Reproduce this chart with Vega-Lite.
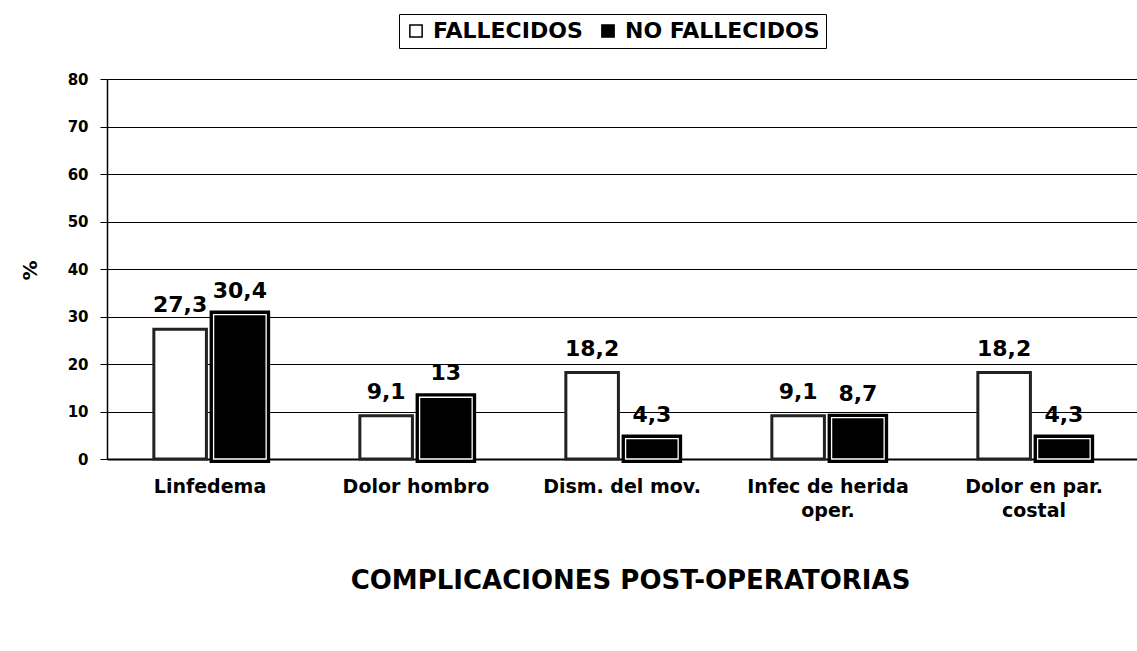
{
  "$schema": "https://vega.github.io/schema/vega-lite/v6.json",
  "width": 1030,
  "height": 380,
  "autosize": "none",
  "padding": {"left": 107, "top": 79, "right": 0, "bottom": 192},
  "background": "white",
  "config": {
    "view": {"stroke": null},
    "font": "DejaVu Sans",
    "axis": {"labelColor": "black", "titleColor": "black", "domainColor": "black", "tickColor": "black", "gridColor": "black", "gridOpacity": 1, "gridWidth": 1}
  },
  "data": {
    "values": [
      {"c": "Linfedema", "s": "FALLECIDOS", "v": 27.3, "t": "27,3"},
      {"c": "Linfedema", "s": "NO FALLECIDOS", "v": 30.4, "t": "30,4"},
      {"c": "Dolor  hombro", "s": "FALLECIDOS", "v": 9.1, "t": "9,1"},
      {"c": "Dolor  hombro", "s": "NO FALLECIDOS", "v": 13, "t": "13"},
      {"c": "Dism. del mov.", "s": "FALLECIDOS", "v": 18.2, "t": "18,2"},
      {"c": "Dism. del mov.", "s": "NO FALLECIDOS", "v": 4.3, "t": "4,3"},
      {"c": "Infec de herida oper.", "s": "FALLECIDOS", "v": 9.1, "t": "9,1"},
      {"c": "Infec de herida oper.", "s": "NO FALLECIDOS", "v": 8.7, "t": "8,7"},
      {"c": "Dolor en par. costal", "s": "FALLECIDOS", "v": 18.2, "t": "18,2"},
      {"c": "Dolor en par. costal", "s": "NO FALLECIDOS", "v": 4.3, "t": "4,3"}
    ]
  },
  "encoding": {
    "x": {
      "field": "c", "type": "nominal", "sort": null,
      "scale": {"paddingInner": 0.42, "paddingOuter": 0.21},
      "axis": {
        "title": "COMPLICACIONES POST-OPERATORIAS",
        "titleFont": "DejaVu Sans", "titleFontSize": 26, "titleFontWeight": "bold",
        "titleX": 523, "titleY": 121, "titleBaseline": "middle", "titleAnchor": null, "titleAlign": "center",
        "labelAngle": 0, "labelFont": "DejaVu Sans", "labelFontSize": 19, "labelFontWeight": "bold",
        "labelBaseline": "top", "labelPadding": 18, "labelLineHeight": 24, "labelLimit": 260,
        "labelExpr": "datum.label == 'Infec de herida oper.' ? ['Infec de herida', 'oper.'] : datum.label == 'Dolor en par. costal' ? ['Dolor en par.', 'costal'] : datum.label",
        "ticks": false, "domainWidth": 2, "grid": false
      }
    },
    "xOffset": {
      "field": "s", "type": "nominal",
      "scale": {"domain": ["FALLECIDOS", "NO FALLECIDOS"], "paddingInner": 0.12, "paddingOuter": 0.06}
    },
    "y": {
      "field": "v", "type": "quantitative",
      "scale": {"domain": [0, 80], "nice": false},
      "axis": {
        "title": "%", "titleFont": "DejaVu Sans", "titleFontSize": 20, "titleFontWeight": "bold",
        "titleAngle": -90, "titleX": -77, "titleY": 191, "titleAlign": "center", "titleBaseline": "middle",
        "values": [0, 10, 20, 30, 40, 50, 60, 70, 80],
        "labelFont": "DejaVu Sans", "labelFontSize": 15, "labelFontWeight": "bold",
        "labelPadding": 12, "tickSize": 7, "grid": true, "domainWidth": 1.5
      }
    }
  },
  "layer": [
    {
      "transform": [{"filter": "datum.s == 'FALLECIDOS'"}],
      "mark": {"type": "bar", "stroke": "#222", "strokeWidth": 3},
      "encoding": {
        "fill": {
          "field": "s", "type": "nominal",
          "scale": {"domain": ["FALLECIDOS", "NO FALLECIDOS"], "range": ["white", "black"]},
          "legend": {
            "title": null, "orient": "none", "legendX": 292, "legendY": -65, "direction": "horizontal",
            "strokeColor": "black", "padding": 6, "fillColor": "white",
            "labelFont": "DejaVu Sans", "labelFontSize": 22, "labelFontWeight": "bold", "labelColor": "black",
            "labelLimit": 400, "labelOffset": 6, "columnPadding": 14,
            "symbolType": "square", "symbolSize": 150, "symbolStrokeColor": "black", "symbolStrokeWidth": 1.5
          }
        }
      }
    },
    {
      "transform": [{"filter": "datum.s == 'NO FALLECIDOS'"}],
      "mark": {"type": "bar", "stroke": "black", "strokeWidth": 8},
      "encoding": {"fill": {"field": "s", "type": "nominal"}}
    },
    {
      "transform": [{"filter": "datum.s == 'NO FALLECIDOS'"}],
      "mark": {"type": "bar", "stroke": "white", "strokeWidth": 1.3},
      "encoding": {"fill": {"field": "s", "type": "nominal"}}
    },
    {
      "mark": {"type": "text", "baseline": "alphabetic", "dy": -17, "fontSize": 22, "fontWeight": "bold", "font": "DejaVu Sans", "color": "black"},
      "encoding": {"text": {"field": "t", "type": "nominal"}}
    }
  ]
}
